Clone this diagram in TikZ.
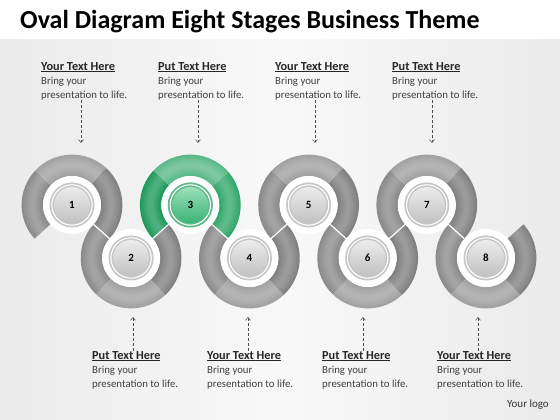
\documentclass[tikz,border=0pt]{standalone}
\usepackage{fontspec}
\setmainfont{Carlito}
\usetikzlibrary{calc,positioning,arrows.meta}

\definecolor{ringlight}{HTML}{A2A2A2}
\definecolor{ringmid}{HTML}{8C8C8C}
\definecolor{ringdark}{HTML}{828282}
\definecolor{greenlight}{HTML}{5CBA8A}
\definecolor{greenmid}{HTML}{35A96C}
\definecolor{greendark}{HTML}{1F9C5C}
\definecolor{balltop}{HTML}{9ADFB8}
\definecolor{ballbottom}{HTML}{3DB377}
\definecolor{bodytext}{HTML}{404040}

\newcommand\ringout{50.4}
\newcommand\ringin{29}
\newcommand\ringpart[4]{%
  \fill[#4] (#1) ++(#2:\ringout) arc[start angle=#2,end angle=#3,radius=\ringout]
    -- ($(#1)+(#3:\ringin)$) arc[start angle=#3,end angle=#2,radius=\ringin] -- cycle;
  \foreach \bw in {17,13,9,5}
    \draw[white,opacity=.06,line width=\bw] (#1) ++(#2:39.7) arc[start angle=#2,end angle=#3,radius=39.7];
}
\newcommand\blocktext[1]{{\fontsize{12.3}{14}\selectfont\textcolor{black!85}{\underline{\textbf{#1 Text Here}}}}\\Bring your\\presentation to life.}

\tikzset{
  ball/.style={circle,minimum size=36,inner sep=0pt,top color=gray!15,bottom color=gray!48,
    font=\bfseries\fontsize{11}{11}\selectfont},
  greenball/.style={ball,top color=balltop,bottom color=ballbottom},
  heading/.style={anchor=north west,align=left,inner sep=0pt,text=bodytext,
    font=\fontsize{10.8}{14}\selectfont},
  pointer/.style={densely dashed,gray!60!black,line width=0.5,-{Straight Barb[length=3pt,width=5pt]}}
}

\begin{document}
\begin{tikzpicture}[x=1pt,y=1pt]
\useasboundingbox (0,0) rectangle (560,420);
\fill[white] (0,0) rectangle (560,420);
\shade[left color=gray!16,right color=gray!16,middle color=gray!5] (0,0) rectangle (560,380);
\node[anchor=west,inner sep=0pt,font=\bfseries\fontsize{26}{28}\selectfont] (title) at (20,398)
  {Oval Diagram Eight Stages Business Theme};

% ring centres
\foreach \i/\xx/\yy in {1/72/215,2/131.1/162,3/190.3/215,4/249.4/162,
                        5/308.6/215,6/367.7/162,7/426.8/215,8/486/162}
  \coordinate (c\i) at (\xx,\yy);

% upper rings
\foreach \i in {1,5,7}{
  \ringpart{c\i}{137}{221.9}{ringmid}
  \ringpart{c\i}{47}{137}{ringlight}
  \ringpart{c\i}{-41.9}{47}{ringdark}
}
\ringpart{c3}{137}{221.9}{greendark}
\ringpart{c3}{40}{137}{greenlight}
\ringpart{c3}{-41.9}{40}{greenmid}
% lower rings
\foreach \i in {2,4,6,8}{
  \ringpart{c\i}{138.1}{226}{ringmid}
  \ringpart{c\i}{226}{313}{ringlight}
  \ringpart{c\i}{313}{401.9}{ringdark}
}
% joints
\foreach \i/\ang in {1/-41.9,2/41.9,3/-41.9,4/41.9,5/-41.9,6/41.9,7/-41.9}
  \draw[white,line width=1.2] ($(c\i)+(\ang:\ringin)$) -- ($(c\i)+(\ang:\ringout)$);

% stage balls
\foreach \i in {1,...,8}{
  \fill[white] (c\i) circle (\ringin);
  \fill[gray!45] (c\i) circle (22.5);
  \draw[white,line width=1.1] (c\i) circle (20.2);
}
\fill[greenmid!80] (c3) circle (22.5);
\draw[white,line width=1.1] (c3) circle (20.2);
\foreach \i in {1,2,4,5,6,7,8}
  \node[ball] (s\i) at (c\i) {\i};
\node[greenball] (s3) at (c3) {3};

% text above
\foreach \i/\xx/\w in {1/41/Your,2/158/Put,3/275/Your,4/392/Put}{
  \node[heading] (t\i) at (\xx,358) {\blocktext{\w}};
  \coordinate (p\i) at (\xx+40,277);
  \draw[pointer] (t\i.south -| p\i) -- (p\i);
}
% text below
\foreach \i/\xx/\w in {5/92/Put,6/207/Your,7/322/Put,8/437/Your}{
  \node[heading] (t\i) at (\xx,69) {\blocktext{\w}};
  \coordinate (p\i) at (\xx+41,103);
  \draw[pointer] (t\i.north -| p\i) -- (p\i);
}

\node[anchor=east,inner sep=0pt,text=black!80,font=\fontsize{11}{12}\selectfont] (logo) at (549,15) {Your logo};
\end{tikzpicture}
\end{document}
